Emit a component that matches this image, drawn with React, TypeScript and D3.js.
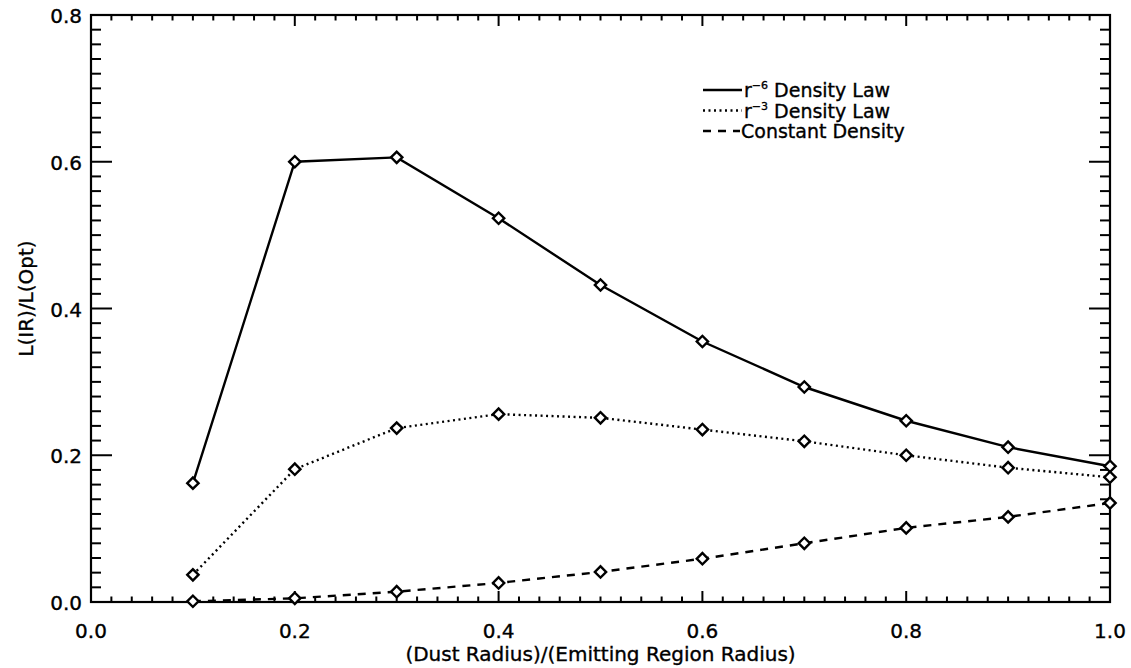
import * as d3 from "d3";
import { useEffect, useRef } from "react";

// dust radius / emitting region radius
const radii = [0.1, 0.2, 0.3, 0.4, 0.5, 0.6, 0.7, 0.8, 0.9, 1.0];
// L(IR)/L(Opt) for each density law
const steepLaw = [0.162, 0.6, 0.606, 0.523, 0.432, 0.355, 0.293, 0.247, 0.211, 0.185];
const r3Law = [0.037, 0.181, 0.237, 0.256, 0.251, 0.235, 0.219, 0.2, 0.183, 0.17];
const constantDensity = [0.001, 0.005, 0.014, 0.026, 0.041, 0.059, 0.08, 0.101, 0.116, 0.135];

const xTicks = [0.0, 0.2, 0.4, 0.6, 0.8, 1.0];
const yTicks = [0.0, 0.2, 0.4, 0.6, 0.8];

const series = [
  { name: "Density Law", exp: "\u22126", values: steepLaw, dash: null as string | null },
  { name: "Density Law", exp: "\u22123", values: r3Law, dash: "2,3.5" },
  { name: "Constant Density", exp: null as string | null, values: constantDensity, dash: "8,7" },
];

const App = () => {
  const svgRef = useRef<SVGSVGElement>(null);

  useEffect(() => {
    const w = 1131;
    const h = 668;
    const m = { left: 91, right: 21, top: 15, bottom: 66 };
    const font = "DejaVu Sans, sans-serif";

    const svg = d3.select(svgRef.current).attr("width", w).attr("height", h);
    svg.selectAll("*").remove();
    svg.append("rect").attr("width", w).attr("height", h).attr("fill", "#fff");

    const x = d3.scaleLinear().domain([0, 1]).range([m.left, w - m.right]);
    const y = d3.scaleLinear().domain([0, 0.8]).range([h - m.bottom, m.top]);
    const [x0, x1] = x.range();
    const [y0, y1] = y.range();

    // frame
    svg.append("rect")
      .attr("x", x0).attr("y", y1)
      .attr("width", x1 - x0).attr("height", y0 - y1)
      .attr("fill", "none").attr("stroke", "#000").attr("stroke-width", 2.2);

    const ticks = svg.append("g").attr("stroke", "#000").attr("stroke-width", 2);

    // x ticks top & bottom
    x.ticks(50).forEach((t) => {
      const major = xTicks.some((v) => Math.abs(v - t) < 1e-6);
      const len = major ? 11 : 5.5;
      ticks.append("line").attr("x1", x(t)).attr("x2", x(t)).attr("y1", y0).attr("y2", y0 - len);
      ticks.append("line").attr("x1", x(t)).attr("x2", x(t)).attr("y1", y1).attr("y2", y1 + len);
    });
    // y ticks left & right
    y.ticks(40).forEach((t) => {
      const major = yTicks.some((v) => Math.abs(v - t) < 1e-6);
      const len = major ? 21 : 10;
      ticks.append("line").attr("y1", y(t)).attr("y2", y(t)).attr("x1", x0).attr("x2", x0 + len);
      ticks.append("line").attr("y1", y(t)).attr("y2", y(t)).attr("x1", x1).attr("x2", x1 - len);
    });

    const txt = (sel: any, size = 20) =>
      sel.attr("font-family", font).attr("font-size", size)
        .attr("fill", "#000").attr("stroke", "#000").attr("stroke-width", 0.35);

    svg.append("g").selectAll("text").data(xTicks).join("text")
      .attr("x", (d) => x(d)).attr("y", y0 + 36)
      .attr("text-anchor", "middle")
      .call(txt)
      .text((d) => d.toFixed(1));

    svg.append("g").selectAll("text").data(yTicks).join("text")
      .attr("x", x0 - 9).attr("y", (d) => y(d) + 8)
      .attr("text-anchor", "end")
      .call(txt)
      .text((d) => d.toFixed(1));

    svg.append("text")
      .attr("x", (x0 + x1) / 2).attr("y", h - 7)
      .attr("text-anchor", "middle")
      .call(txt)
      .text("(Dust Radius)/(Emitting Region Radius)");

    svg.append("text")
      .attr("transform", `translate(33, ${(y0 + y1) / 2 - 10}) rotate(-90)`)
      .attr("text-anchor", "middle")
      .call(txt)
      .text("L(IR)/L(Opt)");

    const line = d3.line<number>()
      .x((d, i) => x(radii[i]))
      .y((d) => y(d));

    const diamond = d3.symbol(d3.symbolSquare, 64);

    series.forEach((s) => {
      svg.append("path")
        .attr("d", line(s.values))
        .attr("fill", "none")
        .attr("stroke", "#000")
        .attr("stroke-width", 2.4)
        .attr("stroke-dasharray", s.dash);
      svg.append("g").selectAll("path").data(s.values).join("path")
        .attr("d", diamond())
        .attr("transform", (d, i) => `translate(${x(radii[i])},${y(d)}) rotate(45)`)
        .attr("fill", "#fff")
        .attr("stroke", "#000")
        .attr("stroke-width", 2.4);
    });

    // legend
    const lg = svg.append("g").attr("transform", "translate(703, 90)");
    series.forEach((s, i) => {
      const row = lg.append("g").attr("transform", `translate(0, ${i * 20.5})`);
      row.append("line")
        .attr("x1", 0).attr("x2", s.exp ? 39 : 37)
        .attr("y1", 0).attr("y2", 0)
        .attr("stroke", "#000").attr("stroke-width", 2.4)
        .attr("stroke-dasharray", s.dash);
      const t = row.append("text")
        .attr("x", s.exp ? 41 : 38).attr("y", 7)
        .call(txt, 19);
      if (s.exp) {
        t.append("tspan").text("r");
        t.append("tspan").attr("dy", -8).attr("font-size", 11).text(s.exp);
        t.append("tspan").attr("dy", 8).text(" " + s.name);
      } else {
        t.text(s.name);
      }
    });
  }, []);

  return <svg ref={svgRef} style={{ position: "absolute", left: 0, top: 0 }}></svg>;
};

export default App;
